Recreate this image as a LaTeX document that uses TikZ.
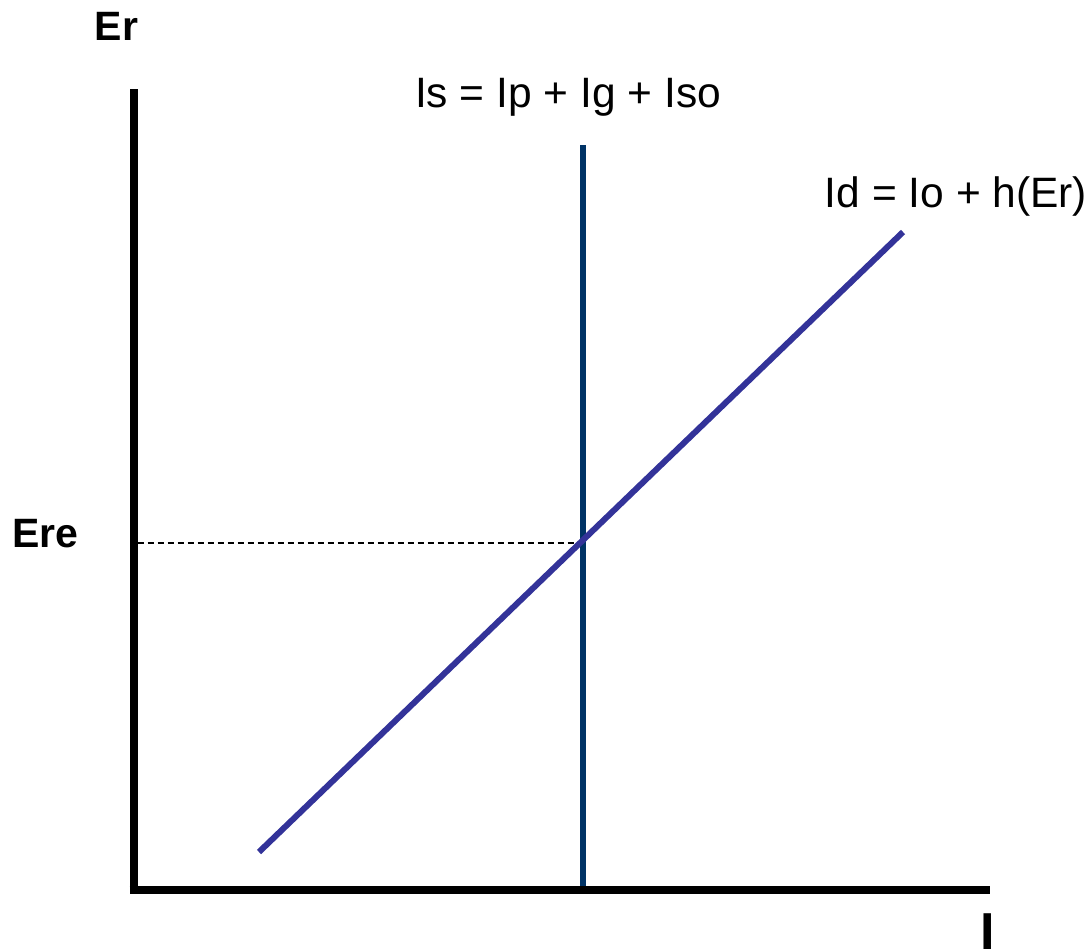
\documentclass[tikz,border=0pt]{standalone}
\usepackage{fontspec}
\setmainfont{Liberation Sans}
\definecolor{navyline}{RGB}{0,51,102}
\definecolor{purpline}{RGB}{51,51,153}
\begin{document}
\begin{tikzpicture}[x=1pt,y=-1pt,
  axis/.style={line width=8pt,black},
  supply/.style={line width=6pt,navyline},
  demand/.style={line width=6pt,purpline},
  guide/.style={line width=1.5pt,black,dash pattern=on 6pt off 4pt},
  lbl/.style={inner sep=0pt,font=\fontsize{42.5}{50}\selectfont},
  blbl/.style={inner sep=0pt,font=\fontsize{41}{49}\selectfont\bfseries}]
\useasboundingbox (0,0) rectangle (1091,951);
\coordinate (ytop) at (133.5,89);
\coordinate (ybot) at (133.5,894);
\coordinate (xstart) at (129.5,890);
\coordinate (xend) at (990,890);
\coordinate (stop) at (583,145);
\coordinate (sbot) at (583,886);
\coordinate (dbot) at (259,852);
\coordinate (dtop) at (903,232);
\coordinate (eq) at (583,543);
\coordinate (eqleft) at (137.5,543);
\draw[axis] (ytop) -- (ybot);
\draw[axis] (xstart) -- (xend);
\draw[guide] (eqleft) -- (eq);
\draw[supply] (stop) -- (sbot);
\draw[demand,line cap=butt] (dbot) -- (dtop);
\node[lbl,anchor=base] (istext) at (568,107) {Is = Ip + Ig + Iso};
\node[lbl,anchor=base] (idtext) at (956,207) {Id = Io + h(Er)};
\node[blbl,anchor=base] (ertext) at (116.5,40) {Er};
\node[blbl,anchor=base] (eretext) at (45.5,547) {Ere};
\node[inner sep=0pt,text depth=0pt,font=\fontsize{52}{60}\selectfont\bfseries,anchor=base] (itext) at (987.5,949) {I};
\end{tikzpicture}
\end{document}
